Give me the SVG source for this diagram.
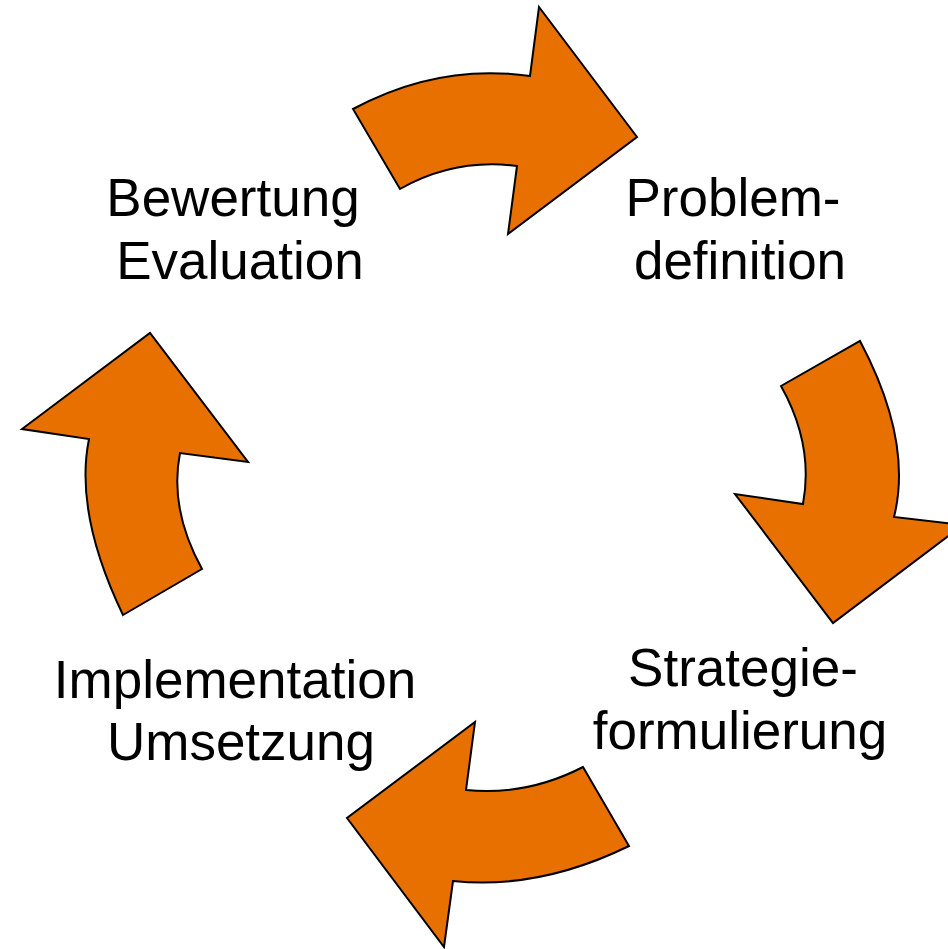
<svg xmlns="http://www.w3.org/2000/svg" width="948" height="949" viewBox="0 0 948 949">
<style>
.arr{fill:#E77000;stroke:#000;stroke-width:2;stroke-linejoin:miter}
.lbl{font-family:"Liberation Sans",Arial,sans-serif;font-size:53px;fill:#000;text-anchor:middle}
</style>
<rect width="948" height="949" fill="#fff"/>
<g id="connectors">
<path id="arrow-top" class="arr" d="M353,109 Q438,63 530,76 L539,7 L637,137 L508,234 L517,166 Q455,158 400,189 Z"/>
<path id="arrow-right" class="arr" d="M781,386 L860,341 Q913,441 894,517 L963,525 L833,623 L735,494 L803,504 Q814,445 781,386 Z"/>
<path id="arrow-bottom" class="arr" d="M583,767 L629,846 Q539,890 453,881 L444,947 L347,818 L475,722 L466,790 Q527,796 583,767 Z"/>
<path id="arrow-left" class="arr" d="M123,615 L202,569 Q169,509 180,453 L248,462 L150,333 L22,429 L89,439 Q74,513 123,615 Z"/>
</g>
<g id="node-bewertung">
<text class="lbl" x="233" y="216">Bewertung</text>
<text class="lbl" x="240" y="279">Evaluation</text>
</g>
<g id="node-problem">
<text class="lbl" x="733" y="216">Problem-</text>
<text class="lbl" x="740" y="279">definition</text>
</g>
<g id="node-strategie">
<text class="lbl" x="743" y="686">Strategie-</text>
<text class="lbl" x="740" y="749">formulierung</text>
</g>
<g id="node-implementation">
<text class="lbl" x="235" y="698">Implementation</text>
<text class="lbl" x="241" y="760">Umsetzung</text>
</g>
</svg>
